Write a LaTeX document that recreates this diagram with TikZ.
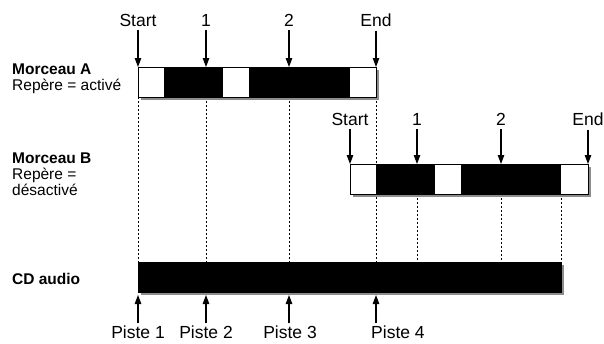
\documentclass[tikz,border=0pt]{standalone}
\usepackage{fontspec}
\setmainfont{Liberation Sans}
\usetikzlibrary{arrows.meta}
\tikzset{
  toplbl/.style={font=\fontsize{17.5}{20}\selectfont, inner sep=1pt},
  sidelbl/.style={font=\fontsize{15.5}{16}\selectfont, anchor=west, inner sep=0pt, align=left},
  arr/.style={line width=1.1pt, -{Triangle[length=9pt,width=6.5pt]}},
  guide/.style={line width=0.9pt, dash pattern=on 2pt off 2pt},
  barw/.style={fill=white},
  barb/.style={fill=black},
  bshadow/.style={fill=black!45},
  bframe/.style={draw=black, line width=0.9pt},
}
\begin{document}
\begin{tikzpicture}[x=1pt,y=-1pt]
\useasboundingbox (0,0) rectangle (604,343);
% ---------- coordinates on bars
\foreach \n/\x in {aS/138,a1/206,a2/289,aE/376}{
  \coordinate (\n t) at (\x,67); \coordinate (\n b) at (\x,97);}
\foreach \n/\x in {bS/350,b1/417,b2/501,bE/588,bK/561}{
  \coordinate (\n t) at (\x,164); \coordinate (\n b) at (\x,194);}
\foreach \n/\x in {c1/138,c2/206,c3/289,c4/376,c5/417,c6/501,c7/561}{
  \coordinate (\n t) at (\x,262); \coordinate (\n b) at (\x,295);}
% ---------- dotted guide lines
\draw[guide] (aSb) -- (c1t);
\draw[guide] (a1b) -- (c2t);
\draw[guide] (a2b) -- (c3t);
\draw[guide] (aEb) -- (c4t);
\draw[guide] (b1b) -- (c5t);
\draw[guide] (b2b) -- (c6t);
\draw[guide] (bKb) -- (c7t);
% ---------- bar A
\fill[bshadow] (140.5,69.5) rectangle (378.5,99.5);
\fill[barw] (138,67) rectangle (376,97);
\fill[barb] (164,67) rectangle (223,97);
\fill[barb] (249,67) rectangle (350,97);
\draw[bframe] (138,67) rectangle (376,97);
% ---------- bar B
\fill[bshadow] (352.5,166.5) rectangle (590.5,196.5);
\fill[barw] (350,164) rectangle (588,194);
\fill[barb] (376,164) rectangle (435,194);
\fill[barb] (461,164) rectangle (561,194);
\draw[bframe] (350,164) rectangle (588,194);
% ---------- CD bar
\fill[bshadow] (140.5,264.5) rectangle (563.5,294.5);
\fill[barb] (138,262) rectangle (561,292);
\draw[bframe] (138,262) rectangle (561,292);
% ---------- top labels A
\node[toplbl] (lAS) at (138,20) {Start};
\node[toplbl] (lA1) at (206,20) {1};
\node[toplbl] (lA2) at (289,20) {2};
\node[toplbl] (lAE) at (376,20) {End};
\foreach \l/\c in {lAS/aSt,lA1/a1t,lA2/a2t,lAE/aEt}
  \draw[arr,shorten <=3pt] (\l.south) -- (\c);
% ---------- top labels B
\node[toplbl] (lBS) at (350,119) {Start};
\node[toplbl] (lB1) at (417,119) {1};
\node[toplbl] (lB2) at (501,119) {2};
\node[toplbl] (lBE) at (588,119) {End};
\foreach \l/\c in {lBS/bSt,lB1/b1t,lB2/b2t,lBE/bEt}
  \draw[arr,shorten <=3pt] (\l.south) -- (\c);
% ---------- bottom labels
\node[toplbl] (p1) at (138,332) {Piste 1};
\node[toplbl] (p2) at (206,332) {Piste 2};
\node[toplbl] (p3) at (290,332) {Piste 3};
\node[toplbl,anchor=west] (p4) at (370,332) {Piste 4};
\coordinate (p4a) at (376,323);
\draw[arr,shorten <=1pt] (p1.north) -- (c1b);
\draw[arr,shorten <=1pt] (p2.north) -- (c2b);
\draw[arr,shorten <=1pt] (p3.north -| c3b) -- (c3b);
\draw[arr] (p4a) -- (c4b);
% ---------- side labels
\node[sidelbl] (mA) at (12,79) {\textbf{Morceau A}\\Repère = activé};
\node[sidelbl] (mB) at (12,174) {\textbf{Morceau B}\\Repère =\\désactivé};
\node[sidelbl] (mC) at (12,279) {\textbf{CD audio}};
\end{tikzpicture}
\end{document}
